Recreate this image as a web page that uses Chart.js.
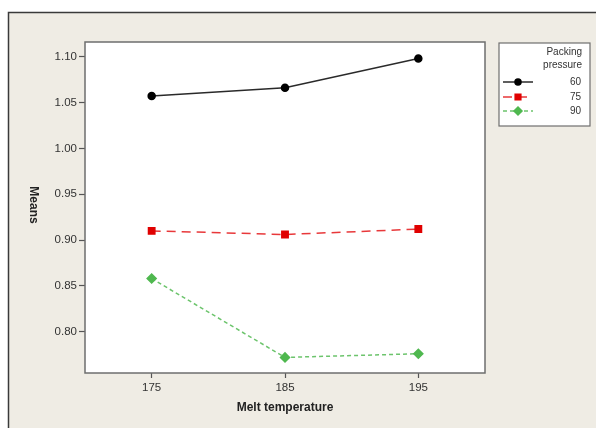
<!DOCTYPE html>
<html><head><meta charset="utf-8">
<script src="https://cdn.jsdelivr.net/npm/chart.js@4"></script>
<style>
html,body{margin:0;padding:0;background:#ffffff;}
#wrap{position:absolute;left:0;top:0;width:596px;height:428px;}
</style></head>
<body><div id="wrap"><canvas id="c" width="596" height="428"></canvas></div>
<script>
const meltTemps = [175, 185, 195];
const seriesNames = ['60', '75', '90'];
const means60 = [1.057, 1.066, 1.098];
const means75 = [0.910, 0.906, 0.912];
const means90 = [0.858, 0.772, 0.776];
const yTickValues = [0.80, 0.85, 0.90, 0.95, 1.00, 1.05, 1.10];
const xTickValues = [175, 185, 195];
const yTitle = 'Means';

const pts = (vals) => meltTemps.map((t, i) => ({x: t, y: vals[i]}));
const FONT = '"Liberation Sans", Arial, sans-serif';

const framePlugin = {
  id: 'frame',
  beforeDraw(chart) {
    const ctx = chart.ctx, a = chart.chartArea;
    ctx.save();
    ctx.fillStyle = '#efece4';
    ctx.fillRect(8, 12, chart.width - 8, chart.height - 12);
    ctx.strokeStyle = '#3a3a3a';
    ctx.lineWidth = 1.5;
    ctx.beginPath();
    ctx.moveTo(8.5, chart.height); ctx.lineTo(8.5, 12.5); ctx.lineTo(chart.width, 12.5);
    ctx.stroke();
    ctx.fillStyle = '#ffffff';
    ctx.fillRect(a.left, a.top, a.right - a.left, a.bottom - a.top);
    ctx.restore();
  },
  afterDraw(chart) {
    const ctx = chart.ctx, a = chart.chartArea;
    ctx.save();
    ctx.strokeStyle = '#6e6e6e';
    ctx.lineWidth = 1.5;
    ctx.strokeRect(a.left, a.top, a.right - a.left, a.bottom - a.top);
    // y title, reading top to bottom
    ctx.save();
    ctx.translate(33, 205);
    ctx.rotate(Math.PI / 2);
    ctx.fillStyle = '#222';
    ctx.font = 'bold 12px ' + FONT;
    ctx.textAlign = 'center';
    ctx.textBaseline = 'middle';
    ctx.fillText(yTitle, 0, 0);
    ctx.restore();
    // legend box
    const lx = 499, ly = 43, lw = 91, lh = 83;
    ctx.fillStyle = '#ffffff';
    ctx.fillRect(lx, ly, lw, lh);
    ctx.strokeStyle = '#6e6e6e';
    ctx.lineWidth = 1.2;
    ctx.strokeRect(lx, ly, lw, lh);
    ctx.fillStyle = '#333';
    ctx.font = '10px ' + FONT;
    ctx.textAlign = 'right';
    ctx.textBaseline = 'middle';
    ctx.fillText('Packing', 582, 52);
    ctx.fillText('pressure', 582, 65);
    const rowsY = [82, 97, 111];
    chart.data.datasets.forEach((ds, i) => {
      const y = rowsY[i];
      ctx.save();
      ctx.strokeStyle = ds.borderColor;
      ctx.lineWidth = ds.borderWidth;
      ctx.setLineDash(ds.borderDash || []);
      ctx.beginPath(); ctx.moveTo(503, y); ctx.lineTo(533, y); ctx.stroke();
      ctx.setLineDash([]);
      ctx.fillStyle = ds.pointBackgroundColor;
      ctx.strokeStyle = ds.pointBackgroundColor;
      Chart.helpers.drawPoint(ctx, {pointStyle: ds.pointStyle, radius: ds.pointRadius - 0.5, rotation: 0, borderWidth: 1}, 518, y);
      ctx.restore();
      ctx.fillStyle = '#333';
      ctx.fillText(ds.label, 581, y);
    });
    ctx.restore();
  }
};

new Chart(document.getElementById('c'), {
  type: 'line',
  data: {
    datasets: [
      {label: seriesNames[0], data: pts(means60), borderColor: '#2a2a2a', borderWidth: 1.5,
       pointStyle: 'circle', pointRadius: 3.5, pointBackgroundColor: '#000', pointBorderColor: '#000'},
      {label: seriesNames[1], data: pts(means75), borderColor: '#e8383a', borderWidth: 1.5, borderDash: [9, 6],
       pointStyle: 'rect', pointRadius: 4.5, pointBackgroundColor: '#e00000', pointBorderColor: '#e00000'},
      {label: seriesNames[2], data: pts(means90), borderColor: '#6cc46c', borderWidth: 1.5, borderDash: [4, 3],
       pointStyle: 'rectRot', pointRadius: 4.5, pointBackgroundColor: '#4fb84f', pointBorderColor: '#4fb84f'}
    ]
  },
  options: {
    responsive: false,
    animation: false,
    devicePixelRatio: 1,
    layout: {padding: {left: 20, right: 111, top: 42, bottom: 0}},
    plugins: {legend: {display: false}, tooltip: {enabled: false}},
    elements: {line: {tension: 0}},
    scales: {
      x: {
        type: 'linear', min: 170, max: 200,
        afterBuildTicks: (s) => { s.ticks = xTickValues.map(v => ({value: v})); },
        afterFit: (s) => { s.height = 55; },
        grid: {drawOnChartArea: false, drawTicks: true, tickLength: 5, color: '#555', tickWidth: 1.2},
        border: {display: false},
        ticks: {color: '#333', padding: 3, font: {family: FONT, size: 11.5}, maxRotation: 0},
        title: {display: true, text: 'Melt temperature', color: '#222', padding: {top: 4, bottom: 13},
          font: {family: FONT, size: 12, weight: 'bold'}}
      },
      y: {
        min: 0.755, max: 1.116,
        afterBuildTicks: (s) => { s.ticks = yTickValues.map(v => ({value: v})); },
        afterFit: (s) => { s.width = 65; },
        grid: {drawOnChartArea: false, drawTicks: true, tickLength: 6, color: '#555', tickWidth: 1.2},
        border: {display: false},
        ticks: {color: '#333', padding: 2, callback: (v) => v.toFixed(2),
          font: {family: FONT, size: 11.5}},
        title: {display: false}
      }
    }
  },
  plugins: [framePlugin]
});
</script></body></html>
